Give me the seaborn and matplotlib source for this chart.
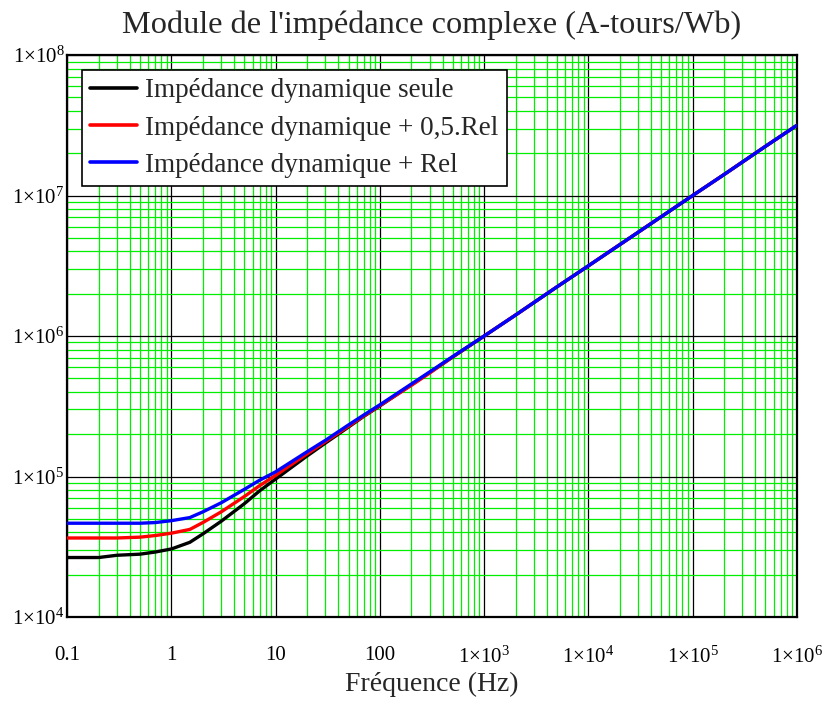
import matplotlib
matplotlib.use("Agg")
import matplotlib.pyplot as plt
import seaborn as sns
import pandas as pd
from matplotlib.ticker import LogLocator, NullFormatter

# Values (frequency in Hz, impedance in A-tours/Wb)
freq = [0.1, 0.2, 0.3, 0.5, 0.7, 1, 1.5, 2, 3, 5, 7, 10, 20, 30, 50, 70,
        100, 200, 300, 500, 1e3, 2e3, 5e3, 1e4, 2e4, 5e4, 1e5, 2e5, 5e5, 1e6]

z_seule = [2.65e4, 2.65e4, 2.75e4, 2.8e4, 2.9e4, 3.05e4, 3.4e4, 3.9e4, 4.8e4, 6.4e4,
           7.9e4, 9.6e4, 1.4e5, 1.73e5, 2.25e5, 2.68e5, 3.18e5, 4.5e5, 5.5e5, 7.1e5,
           1.0e6, 1.41e6, 2.24e6, 3.16e6, 4.47e6, 7.07e6, 1.0e7, 1.41e7, 2.24e7, 3.16e7]

z_demi_rel = [3.65e4, 3.65e4, 3.65e4, 3.7e4, 3.8e4, 3.95e4, 4.2e4, 4.7e4, 5.6e4, 7.2e4,
              8.6e4, 1.02e5, 1.45e5, 1.77e5, 2.28e5, 2.7e5, 3.2e5, 4.45e5, 5.45e5, 7.1e5,
              1.0e6, 1.41e6, 2.24e6, 3.16e6, 4.47e6, 7.07e6, 1.0e7, 1.41e7, 2.24e7, 3.16e7]

z_rel = [4.65e4, 4.65e4, 4.65e4, 4.65e4, 4.7e4, 4.85e4, 5.1e4, 5.6e4, 6.5e4, 8.1e4,
         9.4e4, 1.08e5, 1.5e5, 1.81e5, 2.33e5, 2.74e5, 3.24e5, 4.55e5, 5.55e5, 7.15e5,
         1.0e6, 1.41e6, 2.24e6, 3.16e6, 4.47e6, 7.07e6, 1.0e7, 1.41e7, 2.24e7, 3.16e7]

series_names = ["Impédance dynamique seule",
                "Impédance dynamique + 0,5.Rel",
                "Impédance dynamique + Rel"]
series_colors = ["#000000", "#ff0000", "#0000ff"]

x_ticks = [0.1, 1, 10, 100, 1e3, 1e4, 1e5, 1e6]
x_tick_labels = ["0.1", "1", "10", "100", r"$1{\times}10^{3}$", r"$1{\times}10^{4}$",
                 r"$1{\times}10^{5}$", r"$1{\times}10^{6}$"]
y_ticks = [1e4, 1e5, 1e6, 1e7, 1e8]
y_tick_labels = [r"$1{\times}10^{4}$", r"$1{\times}10^{5}$", r"$1{\times}10^{6}$",
                 r"$1{\times}10^{7}$", r"$1{\times}10^{8}$"]

sns.set_theme(style="white")
plt.rcParams['font.family'] = ['Liberation Serif', 'DejaVu Serif']
plt.rcParams['mathtext.fontset'] = 'custom'
plt.rcParams['mathtext.rm'] = 'Liberation Serif'
plt.rcParams['mathtext.it'] = 'Liberation Serif'

# Long-form table for seaborn
frames = []
for name, values in zip(series_names, [z_seule, z_demi_rel, z_rel]):
    frames.append(pd.DataFrame({"freq": freq, "z": values, "serie": name}))
dataset = pd.concat(frames, ignore_index=True)

fig = plt.figure(figsize=(8.3, 7.25), dpi=100)
ax = fig.add_axes([0.081, 0.149, 0.879, 0.775])

ax.set_xscale("log")
ax.set_yscale("log")

sns.lineplot(data=dataset, x="freq", y="z", hue="serie", hue_order=series_names,
             palette=dict(zip(series_names, series_colors)), linewidth=2.4, ax=ax,
             zorder=3)

ax.set_xlim(0.1, 1e6)
ax.set_ylim(1e4, 1e8)

# Grid: green minor lines, dark major lines
ax.xaxis.set_minor_locator(LogLocator(base=10, subs=range(2, 10), numticks=20))
ax.yaxis.set_minor_locator(LogLocator(base=10, subs=range(2, 10), numticks=20))
ax.xaxis.set_minor_formatter(NullFormatter())
ax.yaxis.set_minor_formatter(NullFormatter())
ax.grid(which="minor", color="#00ee00", linewidth=0.9)
ax.grid(which="major", color="#000000", linewidth=0.9)
ax.set_axisbelow(True)

ax.set_xticks(x_ticks)
ax.set_xticklabels(x_tick_labels)
ax.set_yticks(y_ticks)
ax.set_yticklabels(y_tick_labels)
ax.tick_params(which="both", length=0, labelsize=15, colors="black")
ax.tick_params(axis="x", pad=21)
ax.tick_params(axis="y", pad=2)

for spine in ax.spines.values():
    spine.set_color("black")
    spine.set_linewidth(1.6)

ax.set_title("Module de l'impédance complexe (A-tours/Wb)", fontsize=23.2, pad=16)
ax.set_xlabel("Fréquence (Hz)", fontsize=20)
ax.xaxis.set_label_coords(0.5, -0.097)
ax.set_ylabel("")

legend = ax.legend(loc="upper left", bbox_to_anchor=(0.02, 0.973), fontsize=19.5,
                   frameon=True, fancybox=False, borderaxespad=0, handlelength=1.75,
                   handletextpad=0.3, labelspacing=0.45, borderpad=0.3)
legend.get_frame().set_edgecolor("black")
legend.get_frame().set_linewidth(1.2)
legend.get_frame().set_alpha(1)
for line in legend.get_lines():
    line.set_linewidth(2.6)

fig.savefig("out.png", dpi=100)
